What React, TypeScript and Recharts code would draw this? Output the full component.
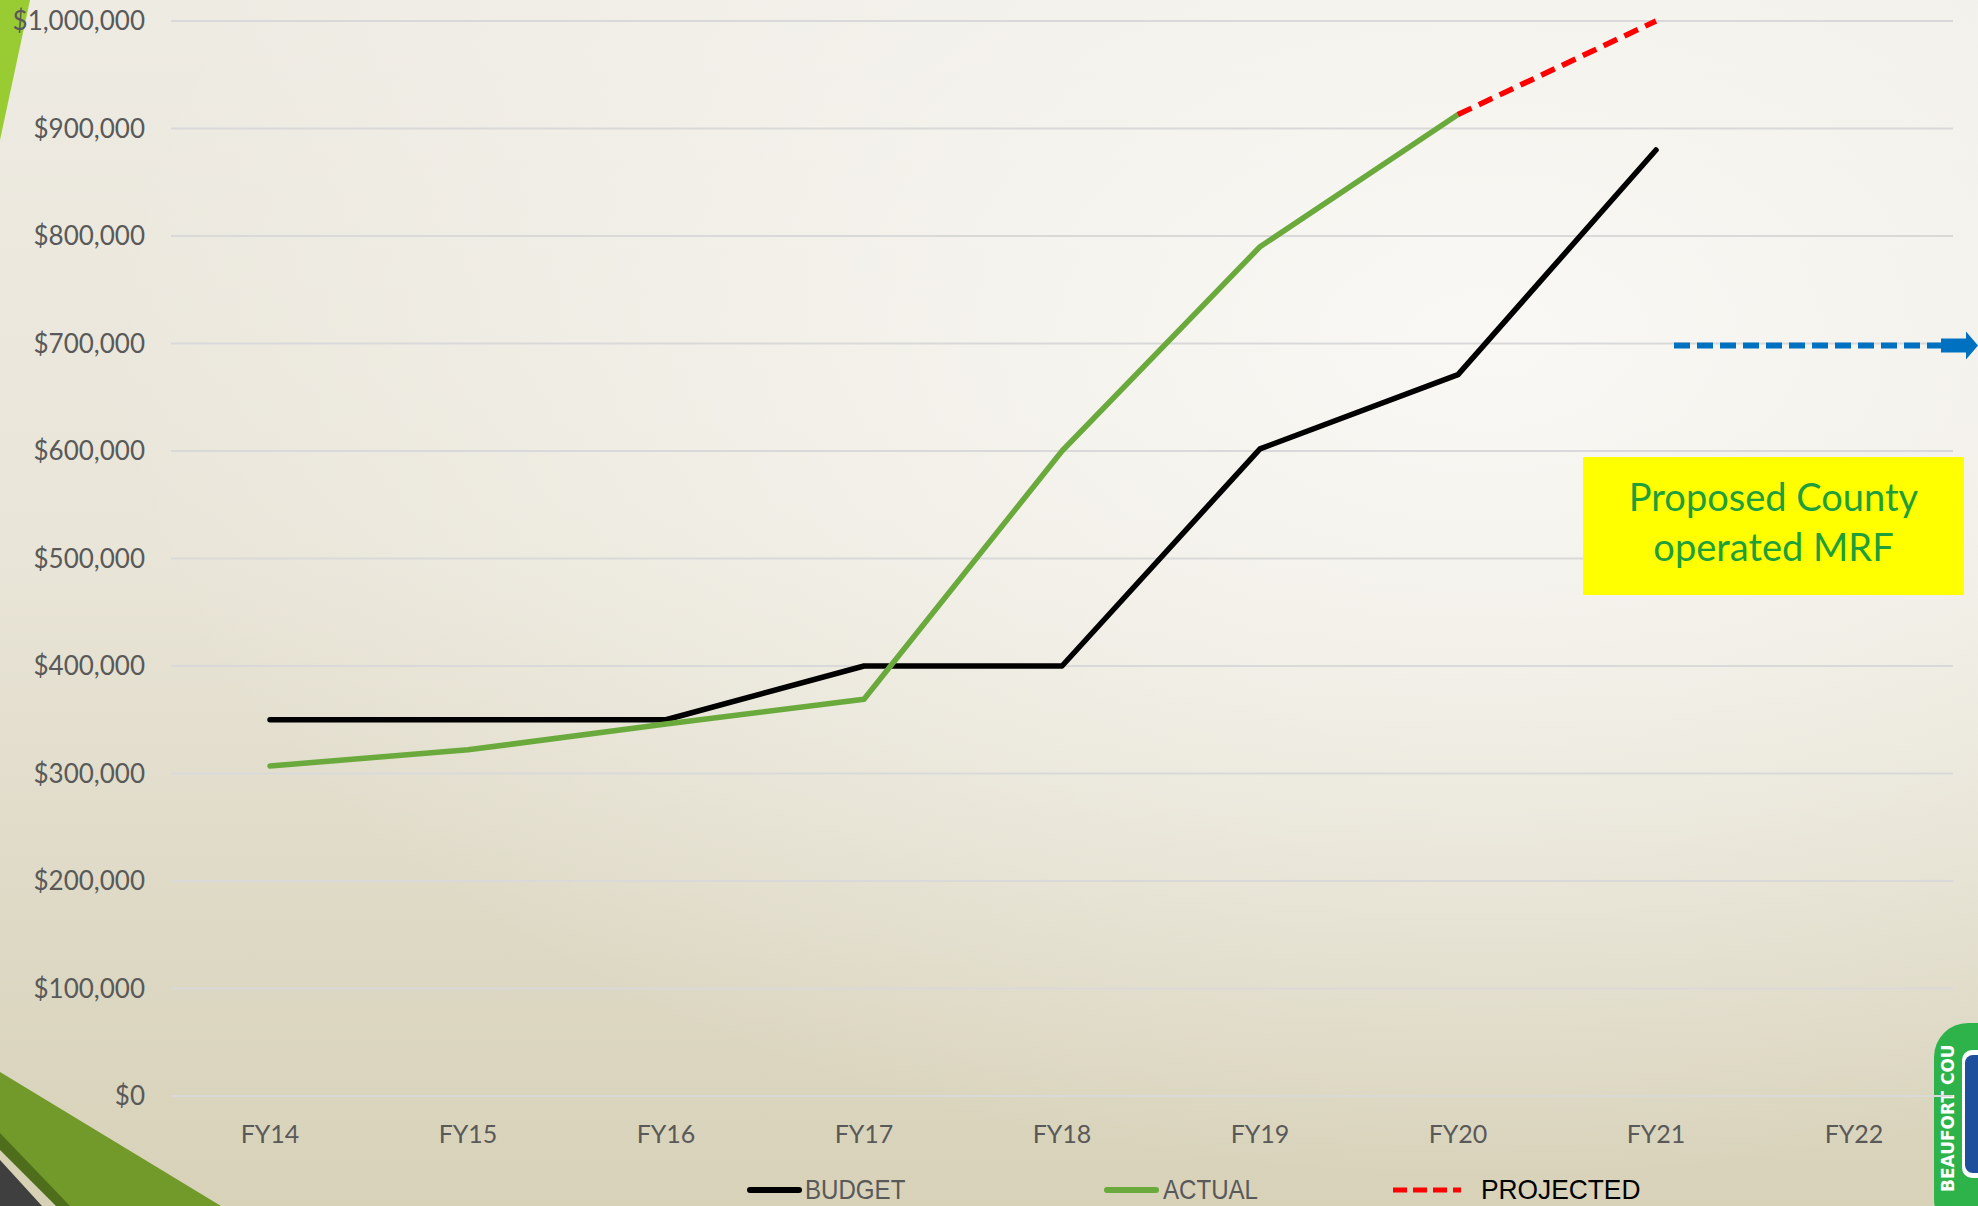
import {
  LineChart,
  Line,
  XAxis,
  YAxis,
  CartesianGrid,
  Legend,
  ReferenceLine,
} from "recharts";

const years = ["FY14", "FY15", "FY16", "FY17", "FY18", "FY19", "FY20", "FY21", "FY22"];
const budget = [350000, 350000, 350000, 400000, 400000, 602000, 671000, 880000, null];
const actual = [307000, 322000, 346000, 369000, 600000, 790000, 913000, null, null];
const projected = [null, null, null, null, null, null, 913000, 1000000, null];
const yTicks = [0, 100000, 200000, 300000, 400000, 500000, 600000, 700000, 800000, 900000, 1000000];
const mrfNote = ["Proposed County", "operated MRF"];
const mrfLevel = 700000;
const mrfFrom = "FY21";
const mrfTo = "FY22";

const data = years.map((year, i) => ({
  year,
  budget: budget[i],
  actual: actual[i],
  projected: projected[i],
}));

const W = 1978;
const H = 1206;
const axisFont = "Lato, 'Open Sans', sans-serif";
const legendFont = "'Liberation Sans', Arial, sans-serif";

const fmt = (v: number) => "$" + v.toLocaleString("en-US");

// blue dashed arrow pointing off the right edge
function MrfArrow(props: any) {
  const { x1 } = props;
  const y1 = props.y1 + 2;
  const start = x1 + 18;
  const headStart = W - 37;
  return (
    <g>
      <line
        x1={start}
        y1={y1}
        x2={headStart}
        y2={y1}
        stroke="#0070c0"
        strokeWidth={6}
        strokeDasharray="16 7"
      />
      <polygon
        points={`${headStart},${y1 - 7} ${W - 12},${y1 - 7} ${W - 12},${y1 - 14} ${W},${y1} ${W - 12},${y1 + 14} ${W - 12},${y1 + 7} ${headStart},${y1 + 7}`}
        fill="#0070c0"
      />
    </g>
  );
}

function LegendContent() {
  const items = [
    { label: "BUDGET", color: "#000000", dash: false, text: "#595959", lx: 747, lw: 55, tx: 805, sx: 0.86 },
    { label: "ACTUAL", color: "#6aa93b", dash: false, text: "#595959", lx: 1104, lw: 55, tx: 1163, sx: 0.86 },
    { label: "PROJECTED", color: "#ff0000", dash: true, text: "#000000", lx: 1393, lw: 68, tx: 1481, sx: 0.94 },
  ];
  return (
    <div style={{ position: "relative", width: W, height: 40 }}>
      {items.map((it) => (
        <div key={it.label}>
          <svg
            width={it.lw}
            height={10}
            style={{ position: "absolute", left: it.lx, top: 15 }}
          >
            <line
              x1={it.dash ? 0 : 3}
              y1={5}
              x2={it.dash ? it.lw : it.lw - 3}
              y2={5}
              stroke={it.color}
              strokeWidth={it.dash ? 5 : 6}
              strokeLinecap={it.dash ? "butt" : "round"}
              strokeDasharray={it.dash ? "14 6" : undefined}
            />
          </svg>
          <span
            style={{
              position: "absolute",
              left: it.tx,
              top: 0,
              lineHeight: "40px",
              fontFamily: legendFont,
              fontSize: 28,
              color: it.text,
              whiteSpace: "nowrap",
              transform: `scaleX(${it.sx})`,
              transformOrigin: "left center",
            }}
          >
            {it.label}
          </span>
        </div>
      ))}
    </div>
  );
}

function Backdrop() {
  return (
    <svg width={W} height={H} style={{ position: "absolute", left: 0, top: 0 }}>
      <polygon points="0,0 30,0 0,140" fill="#99cc33" />
      <polygon points="0,1072 221,1206 0,1206" fill="#729a2a" />
      <polygon points="0,1133 70,1206 0,1206" fill="#4e6e1c" />
      <polygon points="0,1150 56,1206 0,1206" fill="#d7d1b6" />
      <polygon points="0,1160 42,1206 0,1206" fill="#3f3f3f" />
      {/* county seal, cut off at the corner */}
      <rect x={1934} y={1023} width={90} height={210} rx={34} fill="#2db34a" />
      <rect x={1962} y={1050} width={40} height={128} rx={10} fill="#ffffff" />
      <rect x={1965} y={1055} width={36} height={118} rx={8} fill="#1d4f9c" />
      <text
        x={1949}
        y={1192}
        transform="rotate(-90 1949 1192)"
        fill="#ffffff"
        fontFamily="'DejaVu Sans', sans-serif"
        fontWeight="bold"
        fontSize={17}
        dominantBaseline="middle"
      >
        BEAUFORT COU
      </text>
    </svg>
  );
}

export default function App() {
  return (
    <div
      style={{
        position: "absolute",
        left: 0,
        top: 0,
        width: W,
        height: H,
        overflow: "hidden",
        background:
          "radial-gradient(ellipse 70% 70% at 75% 28%, rgba(250,249,246,0.95) 0%, rgba(248,247,243,0.6) 45%, rgba(248,247,243,0) 100%), linear-gradient(180deg, #eeebe3 0%, #e9e5d8 45%, #ddd8c3 80%, #d8d2b9 100%)",
      }}
    >
      <Backdrop />
      <div style={{ position: "absolute", left: 0, top: 0 }}>
        <LineChart
          width={W}
          height={H}
          data={data}
          margin={{ top: 21, right: 25, left: 0, bottom: 40 }}
        >
          <CartesianGrid vertical={false} stroke="#d9d9d9" strokeWidth={2} />
          <XAxis
            dataKey="year"
            axisLine={false}
            tickLine={false}
            tickMargin={23}
            height={30}
            padding={{ left: 99, right: 99 }}
            tick={{ fill: "#595959", fontSize: 25, fontFamily: axisFont }}
            interval={0}
          />
          <YAxis
            width={171}
            domain={[0, 1000000]}
            ticks={yTicks}
            tickFormatter={fmt}
            axisLine={false}
            tickLine={false}
            tickMargin={20}
            tick={{ fill: "#595959", fontSize: 26, fontFamily: axisFont }}
            interval={0}
          />
          <ReferenceLine
            segment={[
              { x: mrfFrom, y: mrfLevel },
              { x: mrfTo, y: mrfLevel },
            ]}
            shape={MrfArrow}
          />
          <Line
            dataKey="budget"
            name="BUDGET"
            stroke="#000000"
            strokeWidth={5.5}
            strokeLinecap="round"
            strokeLinejoin="round"
            dot={false}
            activeDot={false}
            isAnimationActive={false}
          />
          <Line
            dataKey="actual"
            name="ACTUAL"
            stroke="#6aa93b"
            strokeWidth={5.5}
            strokeLinecap="round"
            strokeLinejoin="round"
            dot={false}
            activeDot={false}
            isAnimationActive={false}
          />
          <Line
            dataKey="projected"
            name="PROJECTED"
            stroke="#ff0000"
            strokeWidth={5.5}
            strokeDasharray="15 8"
            dot={false}
            activeDot={false}
            isAnimationActive={false}
          />
          <Legend
            layout="vertical"
            align="center"
            verticalAlign="bottom"
            content={<LegendContent />}
            wrapperStyle={{ top: 1170, left: 0, bottom: "auto", width: W, height: 40 }}
          />
        </LineChart>
      </div>
      <div
        style={{
          position: "absolute",
          left: 1583,
          top: 457,
          width: 381,
          height: 138,
          background: "#ffff00",
          color: "#1f9e3c",
          fontFamily: axisFont,
          fontSize: 38,
          lineHeight: "50px",
          textAlign: "center",
          paddingTop: 14,
          boxSizing: "border-box",
        }}
      >
        {mrfNote.map((t) => (
          <div key={t}>{t}</div>
        ))}
      </div>
    </div>
  );
}
